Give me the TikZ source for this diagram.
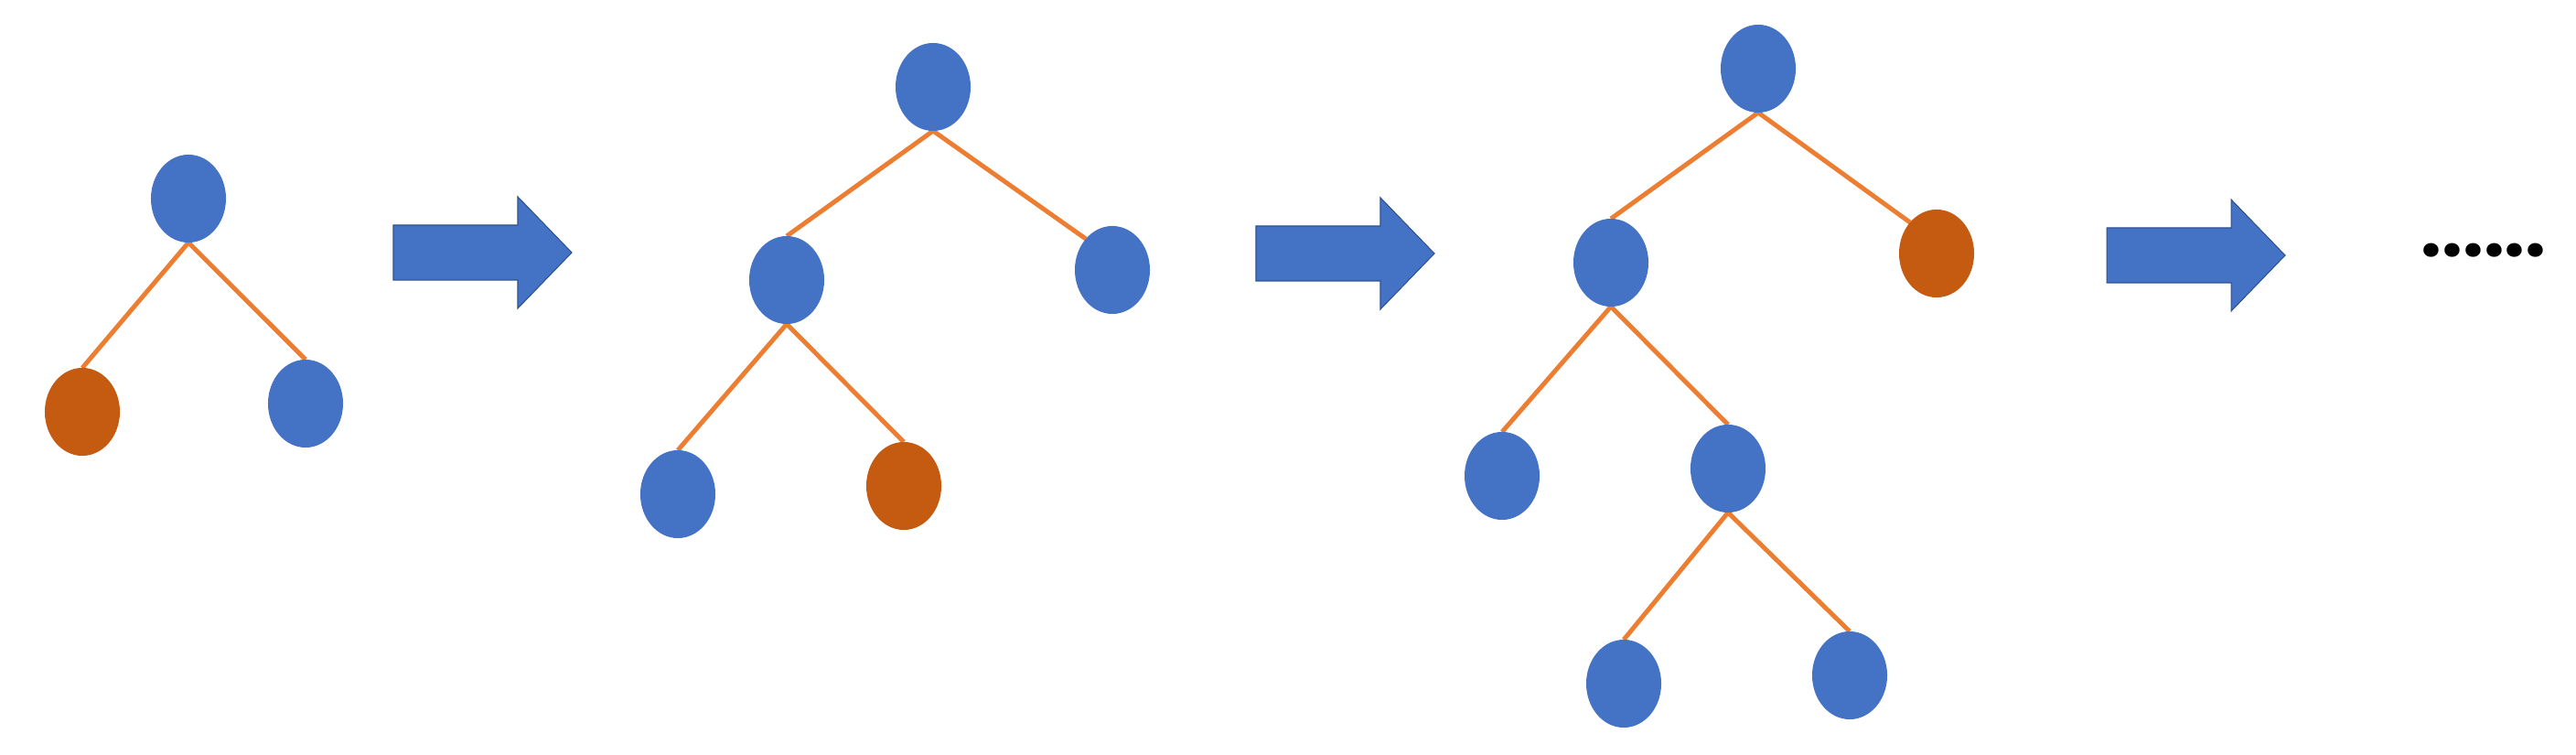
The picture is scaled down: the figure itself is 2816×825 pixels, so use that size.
\documentclass[tikz,border=0pt]{standalone}
\usepackage{fontspec}
\newfontfamily\dotfont{Poppins}
\usetikzlibrary{shapes.geometric,backgrounds}
\definecolor{nodeblue}{HTML}{4472C4}
\definecolor{nodeorange}{HTML}{C55A11}
\definecolor{edgeorange}{HTML}{ED7D31}
\definecolor{arrowedge}{HTML}{2F528F}
\tikzset{
  treenode/.style={ellipse, minimum width=0.82cm, minimum height=0.96cm, inner sep=0pt, outer sep=0pt, fill=nodeblue},
  hotnode/.style={treenode, fill=nodeorange},
  edge/.style={draw=edgeorange, line width=1.4pt},
  blockarrow/.pic={
    \filldraw[fill=nodeblue, draw=arrowedge, line width=0.3pt]
      (0,-30) -- (136,-30) -- (136,-61) -- (195,0) -- (136,61) -- (136,30) -- (0,30) -- cycle;
  }
}
\begin{document}
\begin{tikzpicture}[x=0.01cm, y=-0.01cm]
\useasboundingbox (0,0) rectangle (2816,825);
% tree 1
\node[treenode] (r1) at (206,217) {};
\node[hotnode]  (a1) at (90,450) {};
\node[treenode] (b1) at (334,441) {};
% tree 2
\node[treenode] (r2)  at (1020,95) {};
\node[treenode] (l2)  at (860,306) {};
\node[treenode] (rr2) at (1216,295) {};
\node[treenode] (ll2) at (741,540) {};
\node[hotnode]  (lr2) at (988,531) {};
% tree 3
\node[treenode] (r3)   at (1922,75) {};
\node[treenode] (l3)   at (1761,287) {};
\node[hotnode]  (rr3)  at (2117,277) {};
\node[treenode] (ll3)  at (1642,520) {};
\node[treenode] (lr3)  at (1889,512) {};
\node[treenode] (lrl3) at (1775,747) {};
\node[treenode] (lrr3) at (2022,738) {};
% arrows
\pic at (430,276) {blockarrow};
\pic at (1373,277) {blockarrow};
\pic at (2303,279) {blockarrow};
% dots
\node[inner sep=0pt, font=\dotfont\bfseries\fontsize{23}{28}\selectfont] (more) at (2715,274) {......};
\begin{scope}[on background layer]
  \fill[white] (0,0) rectangle (2816,825);
  \draw[edge] (r1.south) -- (a1.north);
  \draw[edge] (r1.south) -- (b1.north);
  \draw[edge] (r2.south) -- (l2.north);
  \draw[edge] (r2.south) -- (rr2.north west);
  \draw[edge] (l2.south) -- (ll2.north);
  \draw[edge] (l2.south) -- (lr2.north);
  \draw[edge] (r3.south) -- (l3.north);
  \draw[edge] (r3.south) -- (rr3.north west);
  \draw[edge] (l3.south) -- (ll3.north);
  \draw[edge] (l3.south) -- (lr3.north);
  \draw[edge] (lr3.south) -- (lrl3.north);
  \draw[edge] (lr3.south) -- (lrr3.north);
\end{scope}
\end{tikzpicture}
\end{document}
